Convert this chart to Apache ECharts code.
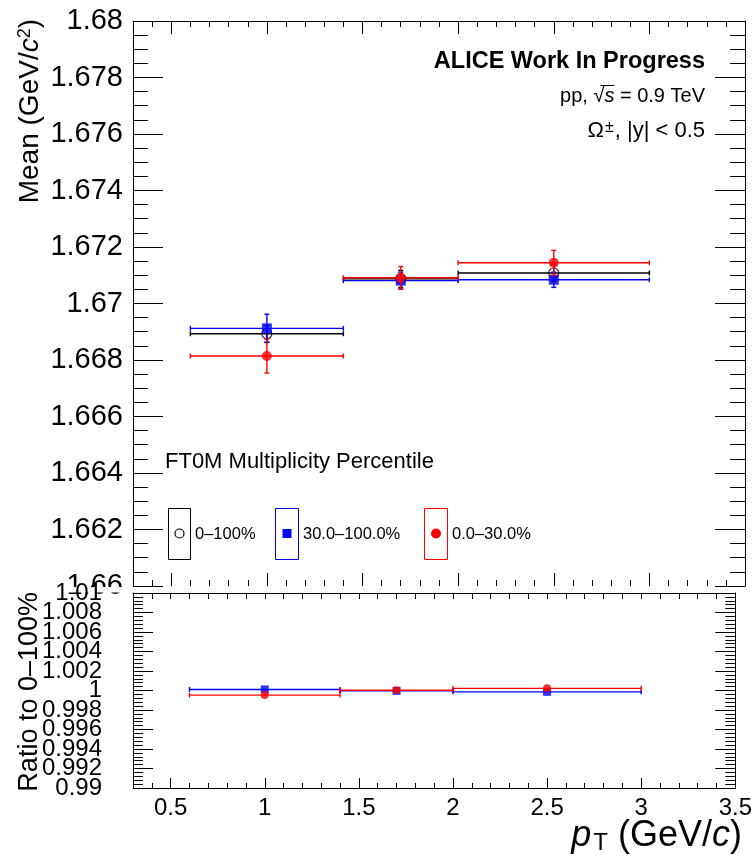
<!DOCTYPE html>
<html>
<head>
<meta charset="utf-8">
<script src="https://cdn.jsdelivr.net/npm/echarts@6/dist/echarts.min.js"></script>
<style>
html, body { margin: 0; padding: 0; background: #ffffff; }
#chart { width: 755px; height: 864px; }
</style>
</head>
<body>
<div id="chart"></div>
<script>
// pT bins (GeV/c)
const ptCenter = [1.0, 1.7, 2.5];
const ptLow = [0.6, 1.4, 2.0];
const ptHigh = [1.4, 2.0, 3.0];

// Mean of the Omega invariant-mass peak (GeV/c^2) per FT0M class
const meanAll = [1.66893, 1.67087, 1.67108];       // 0-100%
const errAll = [0.0003, 0.0003, 0.0003];
const meanLowMult = [1.66912, 1.67081, 1.67084];   // 30.0-100.0%
const errLowMult = [0.0005, 0.0003, 0.00027];
const meanHighMult = [1.66814, 1.67091, 1.67144];  // 0.0-30.0%
const errHighMult = [0.0006, 0.0004, 0.00044];

// Ratios to the 0-100% class
const ratioLowMult = [1.00011, 0.99996, 0.99986];
const ratioHighMult = [0.99953, 1.00002, 1.00022];

// Tick positions
const xTicks = [0.5, 1, 1.5, 2, 2.5, 3, 3.5];
const xMinorTicks = [0.3, 0.4, 0.5, 0.6, 0.7, 0.8, 0.9, 1.0, 1.1, 1.2, 1.3, 1.4, 1.5, 1.6, 1.7,
  1.8, 1.9, 2.0, 2.1, 2.2, 2.3, 2.4, 2.5, 2.6, 2.7, 2.8, 2.9, 3.0, 3.1, 3.2, 3.3, 3.4, 3.5];
const meanTicks = [1.66, 1.662, 1.664, 1.666, 1.668, 1.67, 1.672, 1.674, 1.676, 1.678, 1.68];
const ratioTicks = [0.99, 0.992, 0.994, 0.996, 0.998, 1, 1.002, 1.004, 1.006, 1.008, 1.01];

// the ratio labels are packed tightly, so they are laid out by two axes in alternation
const ratioLabelsA = ratioTicks.filter((v, i) => i % 2 === 0);
const ratioLabelsB = ratioTicks.filter((v, i) => i % 2 === 1);

const FONT = '"Liberation Sans", Arial, Helvetica, sans-serif';
const BLACK = '#000000', BLUE = '#0000ff', RED = '#ff0000';

const fmt = v => String(+(+v).toFixed(4));

// error bars with end caps
function errorBars(color, xIdx, yIdx, values, errs, z) {
  return {
    type: 'custom',
    xAxisIndex: xIdx, yAxisIndex: yIdx, z: z,
    data: ptCenter.map((x, i) => [x, values[i], ptLow[i], ptHigh[i], errs[i]]),
    renderItem: function (params, api) {
      const x = api.value(0), y = api.value(1), xl = api.value(2), xh = api.value(3), e = api.value(4);
      const l = api.coord([xl, y]), h = api.coord([xh, y]);
      const style = { stroke: color, lineWidth: 1.4 };
      const cap = 2.5;
      const children = [
        { type: 'line', shape: { x1: l[0], y1: l[1], x2: h[0], y2: h[1] }, style: style },
        { type: 'line', shape: { x1: l[0], y1: l[1] - cap, x2: l[0], y2: l[1] + cap }, style: style },
        { type: 'line', shape: { x1: h[0], y1: h[1] - cap, x2: h[0], y2: h[1] + cap }, style: style }
      ];
      if (e > 0) {
        const t = api.coord([x, y + e]), b = api.coord([x, y - e]);
        children.push(
          { type: 'line', shape: { x1: t[0], y1: t[1], x2: b[0], y2: b[1] }, style: style },
          { type: 'line', shape: { x1: t[0] - cap, y1: t[1], x2: t[0] + cap, y2: t[1] }, style: style },
          { type: 'line', shape: { x1: b[0] - cap, y1: b[1], x2: b[0] + cap, y2: b[1] }, style: style }
        );
      }
      return { type: 'group', children: children };
    }
  };
}

function markers(symbol, size, itemStyle, xIdx, yIdx, values, z) {
  return {
    type: 'scatter', xAxisIndex: xIdx, yAxisIndex: yIdx, z: z,
    symbol: symbol, symbolSize: size, itemStyle: itemStyle,
    data: ptCenter.map((x, i) => [x, values[i]]),
    emphasis: { disabled: true }, silent: true
  };
}

function xAxisDef(grid, pos, ticks, len, opts) {
  return Object.assign({
    type: 'value', gridIndex: grid, position: pos, min: 0.3, max: 3.5,
    splitLine: { show: false },
    axisLine: { show: false },
    axisTick: { show: true, inside: true, length: len, customValues: ticks,
      lineStyle: { color: BLACK, width: 1 } },
    axisLabel: { show: false }
  }, opts || {});
}

function yAxisDef(grid, pos, min, max, ticks, labels, len, minorLen, split, showLabel, labelSize, margin, z) {
  return {
    type: 'value', gridIndex: grid, position: pos, min: min, max: max, interval: 0.002, z: z,
    splitLine: { show: false },
    axisLine: { show: true, onZero: false, lineStyle: { color: BLACK, width: 1 } },
    axisTick: { show: true, inside: true, length: len, customValues: ticks,
      lineStyle: { color: BLACK, width: 1 } },
    minorTick: { show: true, splitNumber: split, length: minorLen,
      lineStyle: { color: BLACK, width: 1 } },
    axisLabel: { show: showLabel, customValues: labels, formatter: fmt, color: BLACK,
      fontFamily: FONT, fontSize: labelSize, margin: margin,
      showMinLabel: true, showMaxLabel: true, hideOverlap: false }
  };
}

// horizontal extent of a text run, used to place the bar over the "s" of sqrt(s)
const measureCtx = document.createElement('canvas').getContext('2d');
function textWidth(str, font) { measureCtx.font = font; return measureCtx.measureText(str).width; }
const ppRight = 705, ppY = 96;
const tailW = textWidth(' = 0.9 TeV', '20px ' + FONT);
const sW = textWidth('s', 'italic 20px ' + FONT);
const rootW = textWidth('\u221A', '20px ' + FONT);
const barX2 = ppRight - tailW;
const barX1 = barX2 - sW - rootW * 0.35;

const chart = echarts.init(document.getElementById('chart'), null, { renderer: 'canvas' });

const ratioLabelAxisB = yAxisDef(1, 'left', 0.99, 1.01, ratioTicks, ratioLabelsB, 20, 10, 5, true, 24, 31, 10);
ratioLabelAxisB.axisLine = { show: false };
ratioLabelAxisB.axisTick = { show: false };
ratioLabelAxisB.minorTick = { show: false };

const option = {
  backgroundColor: '#ffffff',
  animation: false,
  grid: [
    { left: 133, top: 21, width: 612, height: 565 },
    { left: 133, top: 593, width: 612, height: 195 }
  ],
  xAxis: [
    // upper panel
    xAxisDef(0, 'bottom', xTicks, 13),
    xAxisDef(0, 'bottom', xMinorTicks, 6),
    xAxisDef(0, 'top', xTicks, 13, { axisLine: { show: true, onZero: false, lineStyle: { color: BLACK, width: 1 } } }),
    xAxisDef(0, 'top', xMinorTicks, 6),
    // ratio panel
    xAxisDef(1, 'bottom', xTicks, 10, {
      axisLine: { show: true, onZero: false, lineStyle: { color: BLACK, width: 1 } },
      axisLabel: { show: true, customValues: xTicks, formatter: fmt, color: BLACK,
        fontFamily: FONT, fontSize: 24, margin: 8, showMinLabel: true, showMaxLabel: true }
    }),
    xAxisDef(1, 'bottom', xMinorTicks, 5),
    xAxisDef(1, 'top', xMinorTicks, 6, { axisLine: { show: true, onZero: false, lineStyle: { color: BLACK, width: 1 } } })
  ],
  yAxis: [
    yAxisDef(0, 'left', 1.66, 1.68, meanTicks, meanTicks, 30, 15, 4, true, 29, 10, 0),
    yAxisDef(0, 'right', 1.66, 1.68, meanTicks, meanTicks, 30, 15, 4, false, 29, 10, 0),
    yAxisDef(1, 'left', 0.99, 1.01, ratioTicks, ratioLabelsA, 20, 10, 5, true, 24, 31, 10),
    yAxisDef(1, 'right', 0.99, 1.01, ratioTicks, ratioTicks, 20, 10, 5, false, 24, 31, 10),
    ratioLabelAxisB
  ],
  series: [
    errorBars(BLACK, 0, 0, meanAll, errAll, 2),
    markers('circle', 10, { color: 'rgba(0,0,0,0)', borderColor: BLACK, borderWidth: 1.2 }, 0, 0, meanAll, 2),
    errorBars(BLUE, 0, 0, meanLowMult, errLowMult, 3),
    markers('rect', 10, { color: BLUE }, 0, 0, meanLowMult, 3),
    errorBars(RED, 0, 0, meanHighMult, errHighMult, 4),
    markers('circle', 10, { color: RED }, 0, 0, meanHighMult, 4),

    errorBars(BLUE, 4, 2, ratioLowMult, [0, 0, 0], 3),
    markers('rect', 8, { color: BLUE }, 4, 2, ratioLowMult, 3),
    errorBars(RED, 4, 2, ratioHighMult, [0, 0, 0], 4),
    markers('circle', 8, { color: RED }, 4, 2, ratioHighMult, 4)
  ],
  graphic: [
    // strip between the two pads
    { type: 'rect', z: 5, shape: { x: 0, y: 587, width: 755, height: 5.5 }, style: { fill: '#ffffff' } },

    // axis titles
    { type: 'text', z: 20, x: 30, y: 19, rotation: Math.PI / 2,
      style: { text: 'Mean (GeV/{i|c}{sup|2})', align: 'right', verticalAlign: 'middle',
        fontFamily: FONT, fontSize: 28, fill: BLACK,
        rich: {
          i: { fontFamily: FONT, fontSize: 28, fontStyle: 'italic', fill: BLACK },
          sup: { fontFamily: FONT, fontSize: 18, verticalAlign: 'top', fill: BLACK }
        } } },
    { type: 'text', z: 20, x: 30, y: 592, rotation: Math.PI / 2,
      style: { text: 'Ratio to 0\u2013100%', align: 'right', verticalAlign: 'middle',
        fontFamily: FONT, fontSize: 27, fill: BLACK } },
    { type: 'text', z: 20, x: 742, y: 836,
      style: { text: '{i|p}{sub|T} (GeV/{i|c})', align: 'right', verticalAlign: 'middle',
        fontFamily: FONT, fontSize: 36, fill: BLACK,
        rich: {
          i: { fontFamily: FONT, fontSize: 36, fontStyle: 'italic', fill: BLACK },
          sub: { fontFamily: FONT, fontSize: 24, verticalAlign: 'bottom', fill: BLACK, padding: [14, 0, 0, 2] }
        } } },

    // labels
    { type: 'text', z: 20, x: 705, y: 62,
      style: { text: 'ALICE Work In Progress', align: 'right', verticalAlign: 'middle',
        fontFamily: FONT, fontSize: 23.5, fontWeight: 'bold', fill: BLACK } },
    { type: 'text', z: 20, x: ppRight, y: ppY,
      style: { text: 'pp, \u221A{i|s} = 0.9 TeV', align: 'right', verticalAlign: 'middle',
        fontFamily: FONT, fontSize: 20, fill: BLACK,
        rich: { i: { fontFamily: FONT, fontSize: 20, fontStyle: 'italic', fill: BLACK } } } },
    { type: 'line', z: 20, shape: { x1: barX1, y1: ppY - 10.5, x2: barX2, y2: ppY - 10.5 },
      style: { stroke: BLACK, lineWidth: 1 } },
    { type: 'text', z: 20, x: 705, y: 131,
      style: { text: '\u03A9{sup|\u00B1}, |y| < 0.5', align: 'right', verticalAlign: 'middle',
        fontFamily: FONT, fontSize: 22, fill: BLACK,
        rich: { sup: { fontFamily: FONT, fontSize: 16, verticalAlign: 'top', fill: BLACK, padding: [0, 1, 0, 1] } } } },

    // legend
    { type: 'text', z: 20, x: 165, y: 462,
      style: { text: 'FT0M Multiplicity Percentile', align: 'left', verticalAlign: 'middle',
        fontFamily: FONT, fontSize: 22, fill: BLACK } },
    { type: 'rect', z: 20, shape: { x: 168.5, y: 508.5, width: 22, height: 51 },
      style: { fill: 'none', stroke: BLACK, lineWidth: 1 } },
    { type: 'circle', z: 21, shape: { cx: 179.5, cy: 533.5, r: 4.5 },
      style: { fill: 'none', stroke: BLACK, lineWidth: 1.2 } },
    { type: 'text', z: 20, x: 195, y: 534,
      style: { text: '0\u2013100%', align: 'left', verticalAlign: 'middle',
        fontFamily: FONT, fontSize: 16.5, fill: BLACK } },
    { type: 'rect', z: 20, shape: { x: 275.5, y: 508.5, width: 23, height: 51 },
      style: { fill: 'none', stroke: BLUE, lineWidth: 1 } },
    { type: 'rect', z: 21, shape: { x: 282.5, y: 529, width: 9, height: 9 },
      style: { fill: BLUE } },
    { type: 'text', z: 20, x: 303, y: 534,
      style: { text: '30.0\u2013100.0%', align: 'left', verticalAlign: 'middle',
        fontFamily: FONT, fontSize: 16.5, fill: BLACK } },
    { type: 'rect', z: 20, shape: { x: 424.5, y: 508.5, width: 23, height: 51 },
      style: { fill: 'none', stroke: RED, lineWidth: 1 } },
    { type: 'circle', z: 21, shape: { cx: 436, cy: 533.5, r: 5 },
      style: { fill: RED } },
    { type: 'text', z: 20, x: 452, y: 534,
      style: { text: '0.0\u201330.0%', align: 'left', verticalAlign: 'middle',
        fontFamily: FONT, fontSize: 16.5, fill: BLACK } }
  ]
};

chart.setOption(option);
</script>
</body>
</html>
